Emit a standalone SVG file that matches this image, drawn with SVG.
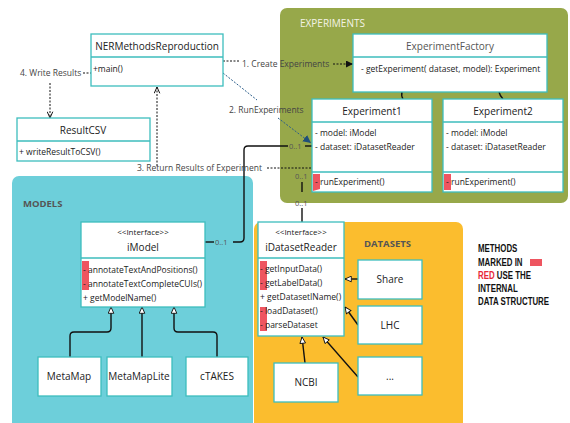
<svg xmlns="http://www.w3.org/2000/svg" width="570" height="423" viewBox="0 0 570 423">
<style>
text{font-family:"Open Sans","Noto Sans","DejaVu Sans",sans-serif;fill:#222}
.box{fill:#fff;stroke:#3dbdbd;stroke-width:1.3}
.div{stroke:#3dbdbd;stroke-width:1.3}
.title{font-size:10px;text-anchor:middle}
.body{font-size:8.5px}
.lbl{font-size:8.5px;fill:#444}
.mult{font-size:7.5px;fill:#555}
.grp{font-size:10px;fill:#555}
.red{fill:#ee5560}
.solid{fill:none;stroke:#111;stroke-width:1.4}
.dash{fill:none;stroke:#111;stroke-width:1;stroke-dasharray:2 1.5}
.bdash{fill:none;stroke:#2a5d8a;stroke-width:1;stroke-dasharray:2 1.5}
.leg{font-family:"Liberation Sans",sans-serif;font-size:10.5px;font-weight:bold;fill:#111}
</style>
<defs>
<marker id="open" viewBox="0 0 10 10" refX="10" refY="5" markerWidth="7" markerHeight="7" orient="auto-start-reverse" markerUnits="userSpaceOnUse">
<path d="M1,1 L10,5 L1,9" fill="none" stroke="#111" stroke-width="1.4"/>
</marker>
<marker id="fill" viewBox="0 0 10 10" refX="10" refY="5" markerWidth="7" markerHeight="7" orient="auto" markerUnits="userSpaceOnUse">
<path d="M0,0 L10,5 L0,10 Z" fill="#111"/>
</marker>
<marker id="bfill" viewBox="0 0 10 10" refX="10" refY="5" markerWidth="8" markerHeight="8" orient="auto" markerUnits="userSpaceOnUse">
<path d="M0,0 L10,5 L0,10 Z" fill="#1f4f7a"/>
</marker>
<marker id="tri" viewBox="0 0 10 10" refX="10" refY="5" markerWidth="7" markerHeight="7" orient="auto" markerUnits="userSpaceOnUse">
<path d="M1,1 L10,5 L1,9 Z" fill="#fff" stroke="#111" stroke-width="1.3"/>
</marker>
</defs>

<!-- groups / packages -->
<g id="experiments-pkg">
<rect x="280" y="8" width="288" height="195" rx="7" fill="#97a84a"/>
<text x="300" y="27" class="grp" style="fill:#f3f3e6">EXPERIMENTS</text>
</g>
<g id="models-pkg">
<rect x="12" y="176" width="241" height="260" rx="7" fill="#6dcfda"/>
<text x="23" y="207" class="grp" style="font-weight:bold;font-size:9.5px">MODELS</text>
</g>
<g id="datasets-pkg">
<rect x="254" y="222" width="209" height="215" rx="7" fill="#fbbd2e"/>
<text x="364" y="247" class="grp" style="font-weight:bold;font-size:9.5px">DATASETS</text>
</g>

<!-- connectors -->
<g id="connectors">
<path class="dash" d="M83,73 H91"/>
<path class="dash" d="M50,83 V118" marker-end="url(#open)"/>
<path class="dash" d="M157,166 V87" marker-end="url(#open)"/>
<path class="dash" d="M267,168 H312"/>
<path class="dash" d="M223,61 H240"/>
<path class="dash" d="M333,64 H353" marker-end="url(#fill)"/>
<path class="bdash" d="M223,73 L257,100"/>
<path class="bdash" d="M278,118 L311,143" marker-end="url(#bfill)"/>
<path class="solid" d="M205,242 H214"/>
<path class="solid" d="M233,242 H240 Q244,242 244,238 V150 Q244,146 248,146 H288"/>
<path class="solid" d="M305,146 H312"/>
<path class="solid" d="M302,182 V192"/>
<path class="solid" d="M302,208 V222"/>
<path class="solid" d="M402,92 Q401,96 403,99" stroke-width="1"/>
<path class="solid" d="M499,92 Q500,96 503,99" stroke-width="1"/>
<path class="solid" d="M70,357 V336 Q70,332 74,332 H107 Q111,332 111,328 V307" marker-end="url(#tri)"/>
<path class="solid" d="M142,357 V307" marker-end="url(#tri)"/>
<path class="solid" d="M217,357 V336 Q217,332 213,332 H178 Q174,332 174,328 V307" marker-end="url(#tri)"/>
<path class="solid" d="M358,279 H345" marker-end="url(#tri)"/>
<path class="solid" d="M358,325 L345,307" marker-end="url(#tri)"/>
<path class="solid" d="M358,377 L323,337" marker-end="url(#tri)"/>
<path class="solid" d="M305,363 L302,337" marker-end="url(#tri)"/>
<text x="20" y="76" class="lbl">4. Write Results</text>
<text x="242" y="67" class="lbl">1. Create Experiments</text>
<text x="229" y="113" class="lbl">2. RunExperiments</text>
<text x="137" y="171" class="lbl">3. Return Results of Experiment</text>
<text x="289" y="149" class="mult">0..1</text>
<text x="215" y="245" class="mult">0..1</text>
<text x="295" y="179" class="mult">0..1</text>
<text x="295" y="206" class="mult">0..1</text>
</g>

<!-- nodes -->
<g id="NERMethodsReproduction">
<rect class="box" x="91" y="34" width="132" height="52"/>
<line class="div" x1="91" y1="57" x2="223" y2="57"/>
<text x="157" y="50" class="title">NERMethodsReproduction</text>
<text x="93" y="72" class="body">+main()</text>
</g>
<g id="ResultCSV">
<rect class="box" x="17" y="118" width="133" height="43"/>
<line class="div" x1="17" y1="141" x2="150" y2="141"/>
<text x="83" y="134" class="title">ResultCSV</text>
<text x="19" y="155" class="body">+ writeResultToCSV()</text>
</g>
<g id="ExperimentFactory">
<rect class="box" x="353" y="34" width="194" height="58"/>
<line class="div" x1="353" y1="57" x2="547" y2="57"/>
<text x="450" y="50" class="title" style="fill:#555">ExperimentFactory</text>
<text x="361" y="72" class="body">- getExperiment( dataset, model): Experiment</text>
</g>
<g id="Experiment1">
<rect class="box" x="312" y="99" width="120" height="93"/>
<line class="div" x1="312" y1="122" x2="432" y2="122"/>
<line class="div" x1="312" y1="172" x2="432" y2="172"/>
<text x="372" y="115" class="title">Experiment1</text>
<text x="315" y="136" class="body">-  model: iModel</text>
<text x="315" y="150" class="body">- dataset: iDatasetReader</text>
<path class="red" d="M313,174 H320 V189 L313,191 Z"/>
<text x="315" y="185" class="body">- runExperiment()</text>
</g>
<g id="Experiment2">
<rect class="box" x="443" y="99" width="120" height="93"/>
<line class="div" x1="443" y1="122" x2="563" y2="122"/>
<line class="div" x1="443" y1="172" x2="563" y2="172"/>
<text x="503" y="115" class="title">Experiment2</text>
<text x="446" y="136" class="body">-  model: iModel</text>
<text x="446" y="150" class="body">- dataset: iDatasetReader</text>
<rect class="red" x="444" y="174" width="7" height="16"/>
<text x="446" y="185" class="body">- runExperiment()</text>
</g>
<g id="iModel">
<rect class="box" x="81" y="222" width="124" height="85"/>
<line class="div" x1="81" y1="258" x2="205" y2="258"/>
<text x="143" y="235" class="title" style="font-size:8px">&lt;&lt;Interface&gt;&gt;</text>
<text x="143" y="251" class="title">iModel</text>
<rect class="red" x="82" y="261" width="7" height="29"/>
<text x="83" y="273" class="body">- annotateTextAndPositions()</text>
<text x="83" y="287" class="body">- annotateTextCompleteCUIs()</text>
<text x="83" y="301" class="body">+ getModelName()</text>
</g>
<g id="MetaMap">
<rect class="box" x="38" y="357" width="63" height="39"/>
<text x="69" y="380" class="title">MetaMap</text>
</g>
<g id="MetaMapLite">
<rect class="box" x="107" y="357" width="65" height="39"/>
<text x="139" y="380" class="title">MetaMapLite</text>
</g>
<g id="cTAKES">
<rect class="box" x="186" y="357" width="62" height="39"/>
<text x="217" y="380" class="title">cTAKES</text>
</g>
<g id="iDatasetReader">
<rect class="box" x="258" y="222" width="86" height="114"/>
<line class="div" x1="258" y1="258" x2="344" y2="258"/>
<text x="301" y="235" class="title" style="font-size:8px">&lt;&lt;Interface&gt;&gt;</text>
<text x="301" y="251" class="title">iDatasetReader</text>
<rect class="red" x="260" y="261" width="7" height="29"/>
<rect class="red" x="260" y="307" width="7" height="24"/>
<text x="260" y="272" class="body">- getInputData()</text>
<text x="260" y="286" class="body">- getLabelData()</text>
<text x="260" y="300" class="body">+ getDatasetIName()</text>
<text x="260" y="314" class="body">- loadDataset()</text>
<text x="260" y="328" class="body">- parseDataset</text>
</g>
<g id="Share">
<rect class="box" x="358" y="260" width="64" height="39"/>
<text x="390" y="283" class="title">Share</text>
</g>
<g id="LHC">
<rect class="box" x="358" y="306" width="64" height="38"/>
<text x="390" y="329" class="title">LHC</text>
</g>
<g id="etc">
<rect class="box" x="358" y="357" width="64" height="38"/>
<text x="390" y="380" class="title">...</text>
</g>
<g id="NCBI">
<rect class="box" x="274" y="363" width="64" height="39"/>
<text x="306" y="386" class="title">NCBI</text>
</g>

<g id="legend">
<rect x="530" y="259" width="12" height="7" fill="#ee5560"/>
<g transform="translate(478,0) scale(0.75,1)">
<text x="0" y="252" class="leg">METHODS</text>
<text x="0" y="266" class="leg">MARKED IN</text>
<text x="0" y="279" class="leg"><tspan style="fill:#e8283a">RED</tspan> USE THE</text>
<text x="0" y="292" class="leg">INTERNAL</text>
<text x="0" y="305" class="leg">DATA STRUCTURE</text>
</g>
</g>
</svg>
